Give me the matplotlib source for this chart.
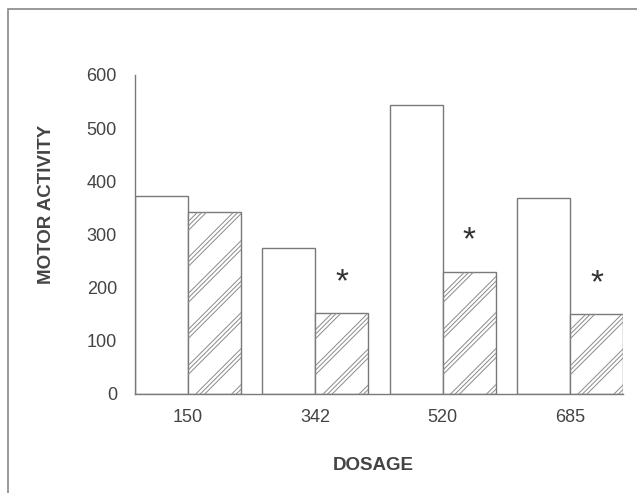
import numpy as np
import matplotlib
matplotlib.use("Agg")
import matplotlib.pyplot as plt
from matplotlib.patches import Rectangle
from matplotlib.lines import Line2D
from matplotlib.transforms import IdentityTransform

# ── Data ───────────────────────────────────────────────────────
dosages   = ["150", "342", "520", "685"]
control   = [372, 275, 543, 368]
treated   = [342, 152, 230, 150]
signif    = [False, True, True, True]   # asterisk over treated bar
y_ticks   = [0, 100, 200, 300, 400, 500, 600]

plt.rcParams["font.family"] = ["Liberation Sans", "DejaVu Sans"]

LINE = "#7a7a7a"
TEXT = "#444444"

fig = plt.figure(figsize=(6.37, 4.93), dpi=100)
fig.patch.set_facecolor("white")

# outer frame of the original figure
fig.patches.append(Rectangle((8 / 637, -0.05), 1.1, 1 - 9 / 493 + 0.05,
                             transform=fig.transFigure, fill=False,
                             edgecolor="#888888", lw=1.2))

ax = fig.add_axes([135 / 637, 1 - 394 / 493, (623 - 135) / 637, (394 - 75) / 493])

x = np.arange(len(dosages))
w = 0.415
ax.bar(x - w / 2, control, width=w, color="white", edgecolor=LINE, lw=1.0)
bars_t = ax.bar(x + w / 2, treated, width=w, color="white", edgecolor=LINE, lw=1.0)

ax.set_xlim(x[0] - w, x[-1] + w)
ax.set_ylim(0, 600)


# ── print-style hatching: triples of thin 45° lines ───────────
def hatch_bar(bar, period=36, offsets=(0, 4.5, 9)):
    (x0, y0), (x1, y1) = ax.transData.transform(
        [(bar.get_x(), 0), (bar.get_x() + bar.get_width(), bar.get_height())])
    for base in np.arange(-(x1 - x0) - period, (y1 - y0) + period, period):
        for off in offsets:
            c = base + off  # y - x in pixels, relative to lower-left corner
            ln = Line2D([x0 - 5, x1 + 5], [y0 + c - 5, y0 + c + (x1 - x0) + 5],
                        transform=IdentityTransform(), color="#8a8a8a", lw=0.7)
            ln.set_clip_path(bar)
            fig.add_artist(ln)


for b in bars_t:
    hatch_bar(b)

for b, s in zip(bars_t, signif):
    if s:
        ax.annotate("*", (b.get_x() + b.get_width() / 2, b.get_height()),
                    xytext=(0, 11), textcoords="offset points",
                    ha="center", va="bottom", fontsize=24, color="#333333")

ax.set_yticks(y_ticks)
ax.set_xticks(x)
ax.set_xticklabels(dosages)

ax.spines[["top", "right"]].set_visible(False)
for sp in ("left", "bottom"):
    ax.spines[sp].set_color(LINE)
    ax.spines[sp].set_linewidth(1.0)
ax.tick_params(axis="both", length=0, labelsize=13, labelcolor=TEXT)
ax.tick_params(axis="y", pad=13)
ax.tick_params(axis="x", pad=11)

fig.text(47 / 637, 1 - 204 / 493, "MOTOR ACTIVITY", rotation=90,
         ha="center", va="center", fontsize=13.5, fontweight="bold", color=TEXT)
fig.text(373 / 637, 1 - 466 / 493, "DOSAGE", ha="center", va="center",
         fontsize=13.5, fontweight="bold", color=TEXT)

fig.savefig("out.png", dpi=100)
